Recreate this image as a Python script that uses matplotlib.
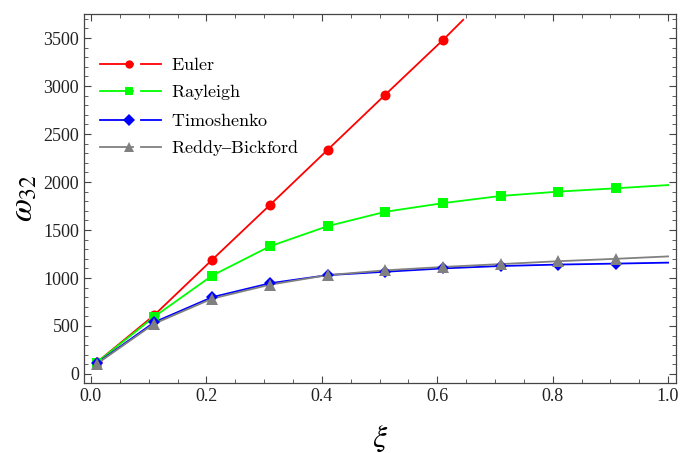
import numpy as np
import matplotlib
matplotlib.use("Agg")
import matplotlib.pyplot as plt
from matplotlib.ticker import MultipleLocator, FormatStrFormatter
from matplotlib.legend_handler import HandlerBase
from matplotlib.lines import Line2D
from matplotlib.font_manager import FontProperties

plt.rcParams['font.family'] = ['Liberation Serif', 'DejaVu Serif']
plt.rcParams['mathtext.fontset'] = 'stix'

# marker positions
xi = np.array([0.01, 0.11, 0.21, 0.31, 0.41, 0.51, 0.61, 0.71, 0.81, 0.91])
euler = np.array([120, 615, 1190, 1760, 2335, 2910, 3480])
rayleigh = np.array([118, 598, 1025, 1330, 1540, 1690, 1780, 1855, 1900, 1935])
timoshenko = np.array([110, 540, 800, 945, 1030, 1065, 1100, 1125, 1140, 1150])
reddy = np.array([105, 525, 785, 930, 1030, 1080, 1115, 1145, 1175, 1200])

# where each curve ends (lines run past the last marker)
x_end = 1.0
euler_end_x = 0.645
euler_end = 3690
rayleigh_end = 1968
timoshenko_end = 1160
reddy_end = 1225

labels = [r'$\mathrm{Euler}$', r'$\mathrm{Rayleigh}$', r'$\mathrm{Timoshenko}$',
          r'$\mathrm{Reddy}$' + '\u2013' + r'$\mathrm{Bickford}$']

series = [
    (labels[0], xi[:len(euler)], euler, euler_end_x, euler_end, (1, 0, 0), 'o', 7.2),
    (labels[1], xi, rayleigh, x_end, rayleigh_end, (0, 1, 0), 's', 6.7),
    (labels[2], xi, timoshenko, x_end, timoshenko_end, (0, 0, 1), 'D', 5.8),
    (labels[3], xi, reddy, x_end, reddy_end, (0.5, 0.5, 0.5), '^', 8.3),
]


class SplitHandle(HandlerBase):
    # Mathematica-style legend swatch: line + marker, gap, short dash
    def create_artists(self, legend, orig_handle, xdescent, ydescent,
                       width, height, fontsize, trans):
        y = height / 2 - ydescent
        x0 = -xdescent
        c = orig_handle.get_color()
        lw = orig_handle.get_linewidth()
        a = Line2D([x0, x0 + 0.535 * width], [y, y], color=c, lw=lw)
        ms = orig_handle.get_markersize()
        if orig_handle.get_marker() != 'D':
            ms *= 0.83
        m = Line2D([x0 + 0.475 * width], [y], color=c, lw=0,
                   marker=orig_handle.get_marker(), markersize=ms,
                   markeredgewidth=0)
        b = Line2D([x0 + 0.675 * width, x0 + width], [y, y], color=c, lw=lw)
        for art in (a, m, b):
            art.set_transform(trans)
        return [a, m, b]


fig = plt.figure(figsize=(6.83, 4.53), dpi=100)
ax = fig.add_axes([0.123, 0.1545, 0.867, 0.8145])

handles = []
for name, x, y, xe, ye, col, mk, ms in series:
    ax.plot(np.append(x, xe), np.append(y, ye), color=col, lw=1.3, zorder=2)
    ax.plot(x, y, ls='', marker=mk, color=col, ms=ms, mew=0, zorder=3)
    handles.append(Line2D([], [], color=col, lw=1.3, marker=mk, ms=ms, label=name))

ax.set_xlim(-0.012, 1.014)
ax.set_ylim(-94, 3750)
ax.xaxis.set_major_locator(MultipleLocator(0.2))
ax.xaxis.set_minor_locator(MultipleLocator(0.05))
ax.yaxis.set_major_locator(MultipleLocator(500))
ax.yaxis.set_minor_locator(MultipleLocator(100))
ax.xaxis.set_major_formatter(FormatStrFormatter('%.1f'))
ax.tick_params(which='both', direction='in', top=True, right=True,
               color='#444444', labelsize=13, labelcolor='#222222')
ax.tick_params(which='major', length=5, width=0.8)
ax.tick_params(which='minor', length=3, width=0.6)
for s in ax.spines.values():
    s.set_color('#444444')
    s.set_linewidth(0.9)

ax.set_xlabel(r'$\xi$', fontsize=23, labelpad=14)
ax.set_ylabel(r'$\omega_{32}$', fontsize=24, labelpad=3)

ax.legend(handles=handles, handler_map={Line2D: SplitHandle()},
          loc='upper left', bbox_to_anchor=(0.027, 0.89), frameon=False,
          prop=FontProperties(size=13, math_fontfamily='cm'),
          handlelength=3.4, handletextpad=0.55, handleheight=1.2,
          labelspacing=0.45, borderaxespad=0, borderpad=0)

fig.savefig("out.png", dpi=100)
